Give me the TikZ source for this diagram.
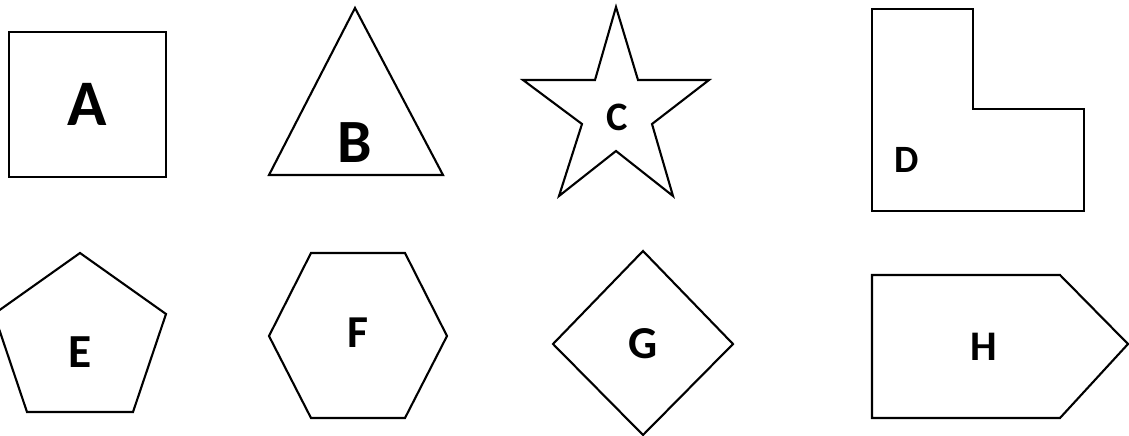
\documentclass[tikz,border=0pt]{standalone}
\usepackage{fontspec}
\setsansfont{Carlito}

\begin{document}
\begin{tikzpicture}[x=0.02cm,y=-0.02cm,
    outline/.style={draw=black,line width=1.2pt,line join=miter},
    lbl/.style={font=\sffamily\bfseries\fontsize{#1}{#1}\selectfont,inner sep=0pt}]

  % canvas (pixel grid, y downwards)
  \useasboundingbox (0,0) rectangle (1129,436);

  % =====================================================================
  % TOP ROW
  % =====================================================================

  % A: square
  \draw[outline] (9,32) rectangle (166,177);
  \node[lbl=37] (labA) at (87,104) {A};

  % B: triangle
  \draw[outline] (355,8) -- (443,175) -- (269,175) -- cycle;
  \node[lbl=35] (labB) at (355,143) {B};

  % C: star
  \draw[outline] (616,7) -- (638,80) -- (709,80) -- (652,124) -- (673,196)
        -- (616,151) -- (559,196) -- (582,124) -- (523,80) -- (595,80) -- cycle;
  \node[lbl=23] (labC) at (617,117) {C};

  % D: L shape
  \draw[outline] (872,9) -- (973,9) -- (973,109) -- (1084,109)
        -- (1084,211) -- (872,211) -- cycle;
  \node[lbl=22] (labD) at (907,160) {D};

  % =====================================================================
  % BOTTOM ROW
  % =====================================================================

  % E: pentagon (left corner runs off the edge)
  \draw[outline] (80,253) -- (166,314) -- (133,412) -- (27,412) -- (-6,314) -- cycle;
  \node[lbl=27] (labE) at (80,352) {E};

  % F: hexagon
  \draw[outline] (311,253) -- (405,253) -- (447,336) -- (405,418)
        -- (311,418) -- (269,336) -- cycle;
  \node[lbl=26] (labF) at (358,333) {F};

  % G: diamond
  \draw[outline] (643,251) -- (733,344) -- (643,435) -- (553,344) -- cycle;
  \node[lbl=26] (labG) at (643,344) {G};

  % H: pointed box
  \draw[outline] (872,275) -- (1060,275) -- (1128,344) -- (1060,418)
        -- (872,418) -- cycle;
  \node[lbl=24] (labH) at (984,347) {H};

\end{tikzpicture}
\end{document}
